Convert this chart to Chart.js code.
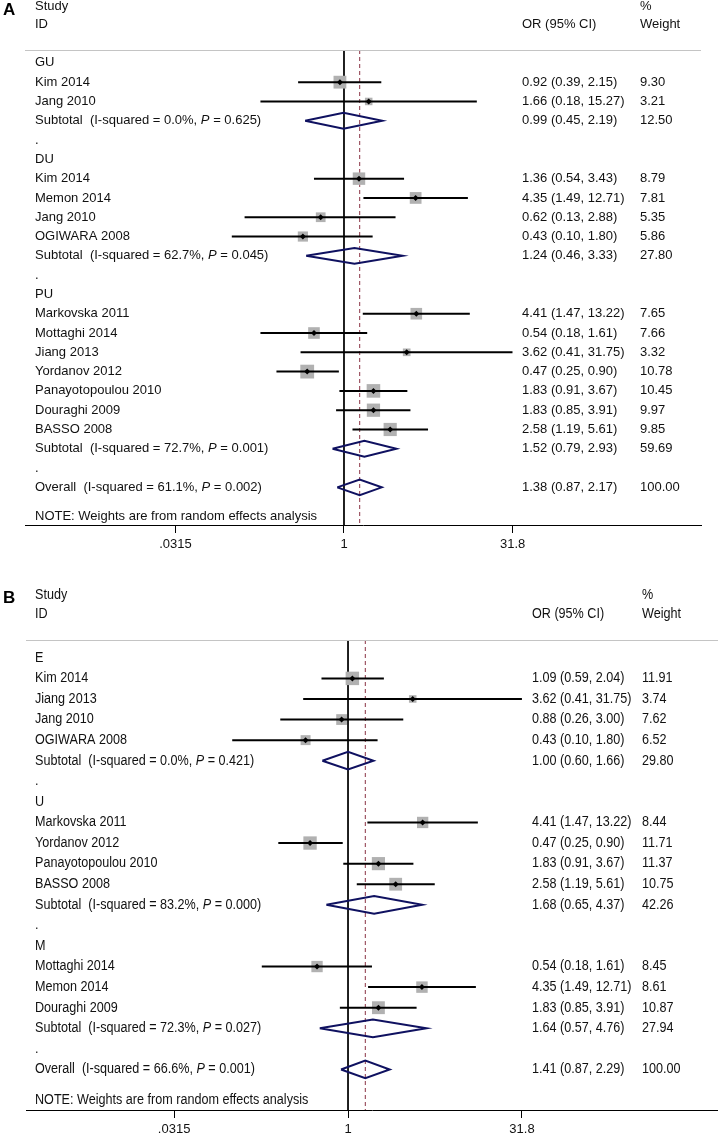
<!DOCTYPE html>
<html><head><meta charset="utf-8">
<script src="https://cdn.jsdelivr.net/npm/chart.js@4.4.0/dist/chart.umd.min.js"></script>
<style>
html,body{margin:0;padding:0;background:#fff;}
#wrap{position:relative;width:718px;height:1141px;overflow:hidden;background:#fff;}
canvas{position:absolute;left:0;}
</style></head><body>
<div id="wrap">
<canvas id="cA" width="718" height="570" style="top:0px"></canvas>
<canvas id="cB" width="718" height="578" style="top:563px"></canvas>
</div>
<script>
// ---------- Panel A data ----------
const aGroupNames = ['GU', 'DU', 'PU'];
const aStudyGroup = [0, 0, 1, 1, 1, 1, 2, 2, 2, 2, 2, 2, 2];
const aStudies = ['Kim 2014', 'Jang 2010', 'Kim 2014', 'Memon 2014', 'Jang 2010', 'OGIWARA 2008',
  'Markovska 2011', 'Mottaghi 2014', 'Jiang 2013', 'Yordanov 2012', 'Panayotopoulou 2010', 'Douraghi 2009', 'BASSO 2008'];
const aOR = [0.92, 1.66, 1.36, 4.35, 0.62, 0.43, 4.41, 0.54, 3.62, 0.47, 1.83, 1.83, 2.58];
const aLow = [0.39, 0.18, 0.54, 1.49, 0.13, 0.10, 1.47, 0.18, 0.41, 0.25, 0.91, 0.85, 1.19];
const aHigh = [2.15, 15.27, 3.43, 12.71, 2.88, 1.80, 13.22, 1.61, 31.75, 0.90, 3.67, 3.91, 5.61];
const aWeight = [9.30, 3.21, 8.79, 7.81, 5.35, 5.86, 7.65, 7.66, 3.32, 10.78, 10.45, 9.97, 9.85];
const aSubOR = [0.99, 1.24, 1.52];
const aSubLow = [0.45, 0.46, 0.79];
const aSubHigh = [2.19, 3.33, 2.93];
const aSubWeight = [12.50, 27.80, 59.69];
const aSubI2 = [0.0, 62.7, 72.7];
const aSubP = ['0.625', '0.045', '0.001'];
const aOverall = [1.38, 0.87, 2.17];
const aOverallWeight = 100.00;
const aOverallI2 = 61.1;
const aOverallP = '0.002';

// ---------- Panel B data ----------
const bGroupNames = ['E', 'U', 'M'];
const bStudyGroup = [0, 0, 0, 0, 1, 1, 1, 1, 2, 2, 2];
const bStudies = ['Kim 2014', 'Jiang 2013', 'Jang 2010', 'OGIWARA 2008',
  'Markovska 2011', 'Yordanov 2012', 'Panayotopoulou 2010', 'BASSO 2008',
  'Mottaghi 2014', 'Memon 2014', 'Douraghi 2009'];
const bOR = [1.09, 3.62, 0.88, 0.43, 4.41, 0.47, 1.83, 2.58, 0.54, 4.35, 1.83];
const bLow = [0.59, 0.41, 0.26, 0.10, 1.47, 0.25, 0.91, 1.19, 0.18, 1.49, 0.85];
const bHigh = [2.04, 31.75, 3.00, 1.80, 13.22, 0.90, 3.67, 5.61, 1.61, 12.71, 3.91];
const bWeight = [11.91, 3.74, 7.62, 6.52, 8.44, 11.71, 11.37, 10.75, 8.45, 8.61, 10.87];
const bSubOR = [1.00, 1.68, 1.64];
const bSubLow = [0.60, 0.65, 0.57];
const bSubHigh = [1.66, 4.37, 4.76];
const bSubWeight = [29.80, 42.26, 27.94];
const bSubI2 = [0.0, 83.2, 72.3];
const bSubP = ['0.421', '0.000', '0.027'];
const bOverall = [1.41, 0.87, 2.29];
const bOverallWeight = 100.00;
const bOverallI2 = 66.6;
const bOverallP = '0.001';

// ---------- axis ticks ----------
const tickValues = [0.0315, 1, 31.8];
const tickLabels = ['.0315', '1', '31.8'];

// ---------- headers / texts ----------
const headStudy = 'Study', headID = 'ID', headOR = 'OR (95% CI)', headPct = '%', headWeight = 'Weight';
const noteText = 'NOTE: Weights are from random effects analysis';

const FONT = '"Liberation Sans", Arial, Helvetica, sans-serif';
const NAVY = '#0f1160';
const MAROON = '#8a3344';
const GREY = '#b1b1b1';
const INK = '#111';

function f2(v) { return v.toFixed(2); }
function ciText(o, l, h) { return f2(o) + ' (' + f2(l) + ', ' + f2(h) + ')'; }

function makePanel(d, L) {
  const rows = [];
  const studyRow = [];
  const subRow = [];
  let r = 0;
  d.groups.forEach((gname, g) => {
    rows.push({ kind: 'group', r: r, text: gname }); r++;
    d.studyGroup.forEach((sg, i) => {
      if (sg === g) { studyRow[i] = r; rows.push({ kind: 'study', r: r, i: i }); r++; }
    });
    subRow[g] = r; rows.push({ kind: 'sub', r: r, g: g }); r++;
    rows.push({ kind: 'dot', r: r }); r++;
  });
  const overallRow = r;
  rows.push({ kind: 'overall', r: r });
  const noteRow = r + 1.5;

  const datasets = [];
  // centre dots (top-most)
  datasets.push({
    data: d.or.map((v, i) => ({ x: v, y: studyRow[i] })),
    pointStyle: 'rectRot', pointRadius: L.dotR, backgroundColor: '#000', borderWidth: 0, order: 0
  });
  // CI lines
  d.or.forEach((v, i) => {
    datasets.push({
      data: [{ x: d.low[i], y: studyRow[i] }, { x: d.high[i], y: studyRow[i] }],
      showLine: true, borderColor: '#000', borderWidth: 2, pointRadius: 0, order: 1
    });
  });
  // weight squares
  datasets.push({
    data: d.or.map((v, i) => ({ x: v, y: studyRow[i] })),
    pointStyle: 'rect',
    pointRadius: (c) => L.side * Math.sqrt(d.weight[c.dataIndex]) / Math.SQRT2,
    backgroundColor: GREY, borderWidth: 0, order: 2
  });
  // diamonds
  const dia = (o, lo, hi, rr) => ({
    data: [{ x: lo, y: rr }, { x: o, y: rr - L.dh }, { x: hi, y: rr }, { x: o, y: rr + L.dh }, { x: lo, y: rr }],
    showLine: true, borderColor: NAVY, borderWidth: 2, pointRadius: 0, borderJoinStyle: 'miter', order: 1
  });
  d.subOR.forEach((o, g) => datasets.push(dia(o, d.subLow[g], d.subHigh[g], subRow[g])));
  datasets.push(dia(d.overall[0], d.overall[1], d.overall[2], overallRow));
  // reference lines
  datasets.push({
    data: [{ x: 1, y: L.yMin }, { x: 1, y: L.yMax }],
    showLine: true, borderColor: '#000', borderWidth: 1, pointRadius: 0, order: 3
  });
  datasets.push({
    data: [{ x: d.overall[0], y: L.yMin }, { x: d.overall[0], y: L.yMax }],
    showLine: true, borderColor: MAROON, borderWidth: 1, borderDash: [4, 3], pointRadius: 0, order: 3
  });

  function txt(ctx, segs, x, y) {
    ctx.save();
    ctx.translate(x, y);
    ctx.scale(L.sx, 1);
    ctx.textBaseline = 'middle';
    ctx.textAlign = 'left';
    ctx.fillStyle = INK;
    let cx = 0;
    segs.forEach(s => {
      if (typeof s === 'string') s = { t: s };
      ctx.font = (s.it ? 'italic ' : '') + (s.b ? 'bold ' : '') + (s.fs || L.fs) + 'px ' + FONT;
      ctx.fillText(s.t, cx, 0);
      cx += ctx.measureText(s.t).width;
    });
    ctx.restore();
  }

  const textPlugin = {
    id: 'forestText',
    afterDraw(chart) {
      const ctx = chart.ctx;
      const ys = chart.scales.y;
      const ca = chart.chartArea;
      ctx.save();
      ctx.strokeStyle = '#c4c4c4';
      ctx.lineWidth = 1;
      ctx.beginPath();
      ctx.moveTo(ca.left, ca.top + 0.5);
      ctx.lineTo(ca.right, ca.top + 0.5);
      ctx.stroke();
      ctx.restore();
      ctx.save();
      ctx.fillStyle = '#000';
      ctx.font = 'bold ' + L.letterFs + 'px ' + FONT;
      ctx.textBaseline = 'middle';
      ctx.fillText(L.letter, 3, L.letterY);
      ctx.restore();
      txt(ctx, [headStudy], L.labelX, L.head1);
      txt(ctx, [headID], L.labelX, L.head2);
      txt(ctx, [headPct], L.wtX, L.head1);
      txt(ctx, [headOR], L.orX, L.head2);
      txt(ctx, [headWeight], L.wtX, L.head2);
      rows.forEach(row => {
        const y = ys.getPixelForValue(row.r);
        if (row.kind === 'group') {
          txt(ctx, [row.text], L.labelX, y);
        } else if (row.kind === 'study') {
          const i = row.i;
          txt(ctx, [d.studies[i]], L.labelX, y);
          txt(ctx, [ciText(d.or[i], d.low[i], d.high[i])], L.orX, y);
          txt(ctx, [f2(d.weight[i])], L.wtX, y);
        } else if (row.kind === 'sub') {
          const g = row.g;
          txt(ctx, ['Subtotal  (I-squared = ' + d.subI2[g].toFixed(1) + '%, ', { t: 'P', it: true }, ' = ' + d.subP[g] + ')'], L.labelX, y);
          txt(ctx, [ciText(d.subOR[g], d.subLow[g], d.subHigh[g])], L.orX, y);
          txt(ctx, [f2(d.subWeight[g])], L.wtX, y);
        } else if (row.kind === 'dot') {
          txt(ctx, ['.'], L.labelX, y);
        } else if (row.kind === 'overall') {
          txt(ctx, ['Overall  (I-squared = ' + d.overallI2.toFixed(1) + '%, ', { t: 'P', it: true }, ' = ' + d.overallP + ')'], L.labelX, y);
          txt(ctx, [ciText(d.overall[0], d.overall[1], d.overall[2])], L.orX, y);
          txt(ctx, [f2(d.overallWeight)], L.wtX, y);
        }
      });
      txt(ctx, [noteText], L.labelX, ys.getPixelForValue(noteRow));
    }
  };

  return new Chart(document.getElementById(L.canvas), {
    type: 'scatter',
    data: { datasets: datasets },
    options: {
      responsive: false,
      animation: false,
      devicePixelRatio: 1,
      events: [],
      layout: { padding: L.pad, autoPadding: false },
      plugins: { legend: { display: false }, tooltip: { enabled: false } },
      scales: {
        x: {
          type: 'logarithmic',
          min: L.xMin, max: L.xMax,
          afterBuildTicks: (s) => { s.ticks = tickValues.map(v => ({ value: v })); },
          ticks: {
            autoSkip: false, maxRotation: 0, padding: L.tickPad, color: INK,
            font: { family: FONT, size: L.tickFs, lineHeight: 1 },
            callback: (v) => tickLabels[tickValues.indexOf(v)]
          },
          grid: { display: true, drawOnChartArea: false, drawTicks: true, tickLength: 8, color: '#000', lineWidth: 1 },
          border: { display: true, color: '#000', width: 1 }
        },
        y: { type: 'linear', display: false, reverse: true, min: L.yMin, max: L.yMax }
      }
    },
    plugins: [textPlugin]
  });
}

makePanel(
  { groups: aGroupNames, studyGroup: aStudyGroup, studies: aStudies, or: aOR, low: aLow, high: aHigh, weight: aWeight,
    subOR: aSubOR, subLow: aSubLow, subHigh: aSubHigh, subWeight: aSubWeight, subI2: aSubI2, subP: aSubP,
    overall: aOverall, overallWeight: aOverallWeight, overallI2: aOverallI2, overallP: aOverallP },
  { canvas: 'cA', fs: 13, sx: 1, tickFs: 13, tickPad: 5, xMin: 0.001435, xMax: 1520, yMin: -0.667, yMax: 23.95,
    pad: { top: 50, left: 25, right: 17, bottom: 14 }, labelX: 35, orX: 522, wtX: 640, head1: 6, head2: 24,
    letter: 'A', letterY: 10, letterFs: 17, side: 4.2, dh: 0.41, dotR: 3 }
);
makePanel(
  { groups: bGroupNames, studyGroup: bStudyGroup, studies: bStudies, or: bOR, low: bLow, high: bHigh, weight: bWeight,
    subOR: bSubOR, subLow: bSubLow, subHigh: bSubHigh, subWeight: bSubWeight, subI2: bSubI2, subP: bSubP,
    overall: bOverall, overallWeight: bOverallWeight, overallI2: bOverallI2, overallP: bOverallP },
  { canvas: 'cB', fs: 14, sx: 0.9, tickFs: 13, tickPad: 5, xMin: 0.001656, xMax: 1567, yMin: -0.865, yMax: 21.97,
    pad: { top: 77, left: 26, right: 0, bottom: 0 }, labelX: 35, orX: 532, wtX: 642, head1: 32, head2: 51,
    letter: 'B', letterY: 35, letterFs: 17, side: 3.9, dh: 0.43, dotR: 3 }
);
</script>
</body></html>
